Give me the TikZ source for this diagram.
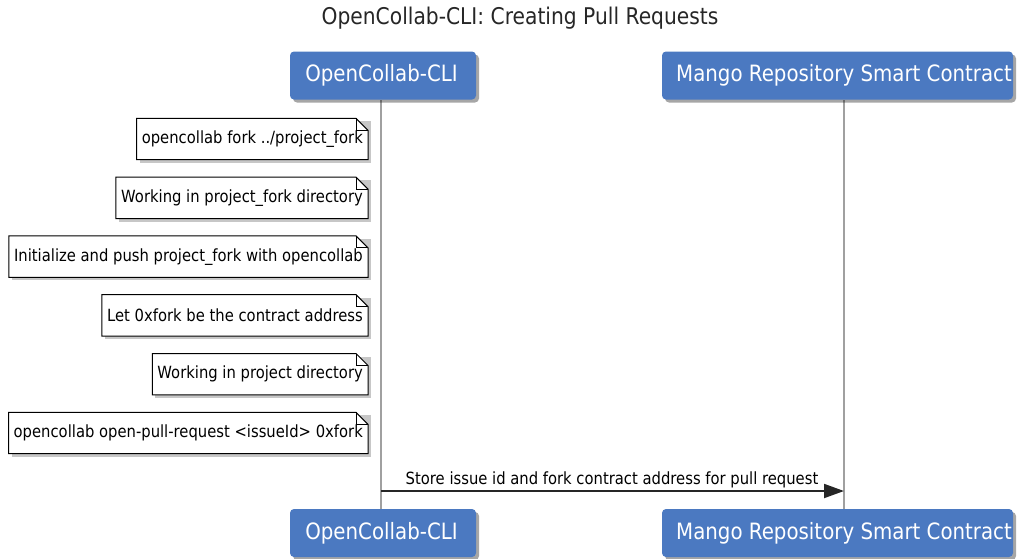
\documentclass[tikz,border=0pt]{standalone}
\usepackage{fontspec}
\setmainfont{DejaVu Sans}[FakeStretch=0.88]
\usetikzlibrary{backgrounds,shadows,arrows.meta}
\definecolor{actorblue}{HTML}{4B79C1}
\definecolor{lifegray}{HTML}{A0A0A0}
\newcommand{\actorfont}{\fontsize{22.5}{27}\selectfont}
\newcommand{\notefont}{\fontsize{16.8}{20}\selectfont}
\newcommand{\titlefont}{\fontsize{23}{27}\selectfont}
\tikzset{
  actorbox/.style={rectangle, rounded corners=4pt, fill=actorblue, text=white,
    font=\actorfont, minimum height=48pt, inner sep=0pt,
    drop shadow={shadow xshift=3pt, shadow yshift=-3pt, fill=black, opacity=0.35}},
  notetext/.style={rectangle, inner xsep=5pt, inner ysep=0pt, minimum height=41pt,
    anchor=east, font=\notefont},
  lifeline/.style={draw=lifegray, line width=2pt},
  msgline/.style={draw=black!85, line width=2pt, -{Triangle[length=20pt,width=14pt]}},
  msglabel/.style={font=\notefont, inner sep=1pt, anchor=south},
}
\newcommand{\drawnote}[1]{%
  \begin{scope}[on background layer]
    \fill[black, opacity=0.22] ([xshift=3pt,yshift=-3pt]#1.north west) rectangle ([xshift=3pt,yshift=-3pt]#1.south east);
    \filldraw[fill=white, draw=black, line width=1pt]
      (#1.north west) -- ([xshift=-12pt]#1.north east) -- ([yshift=-12pt]#1.north east)
      -- (#1.south east) -- (#1.south west) -- cycle;
    \draw[line width=1pt] ([xshift=-12pt]#1.north east) -- ([xshift=-12pt,yshift=-12pt]#1.north east)
      -- ([yshift=-12pt]#1.north east);
  \end{scope}}
\begin{document}
\begin{tikzpicture}[x=1pt,y=-1pt]
\useasboundingbox (0,0) rectangle (1020,558);
\node[font=\titlefont, text=black!85, inner sep=0pt] (title) at (520,18) {OpenCollab-CLI: Creating Pull Requests};

% lifelines
\coordinate (l1t) at (381,100);
\coordinate (l1b) at (381,510);
\coordinate (l2t) at (844,100);
\coordinate (l2b) at (844,510);
\draw[lifeline] (l1t) -- (l1b);
\draw[lifeline] (l2t) -- (l2b);

% actors
\node[actorbox, minimum width=186pt] (a1top) at (383,75.5) {};
\node[text=white, font=\actorfont] (a1toplbl) at (381.5,75.5) {OpenCollab-CLI};
\node[actorbox, minimum width=351pt] (a2top) at (837.5,75.5) {};
\node[text=white, font=\actorfont] (a2toplbl) at (844,75.5) {Mango Repository Smart Contract};
\node[actorbox, minimum width=186pt] (a1bot) at (383,533) {};
\node[text=white, font=\actorfont] (a1botlbl) at (381.5,533) {OpenCollab-CLI};
\node[actorbox, minimum width=351pt] (a2bot) at (837.5,533) {};
\node[text=white, font=\actorfont] (a2botlbl) at (844,533) {Mango Repository Smart Contract};

% notes
\node[notetext] (n1) at (368,139) {opencollab fork ../project\_fork};
\drawnote{n1}
\node[notetext] (n2) at (368,197.8) {Working in project\_fork directory};
\drawnote{n2}
\node[notetext] (n3) at (368,256.6) {Initialize and push project\_fork with opencollab};
\drawnote{n3}
\node[notetext] (n4) at (368,315.4) {Let 0xfork be the contract address};
\drawnote{n4}
\node[notetext] (n5) at (368,374.2) {Working in project directory};
\drawnote{n5}
\node[notetext] (n6) at (368,433) {opencollab open-pull-request <issueId> 0xfork};
\drawnote{n6}

% message
\coordinate (m1s) at (381,491);
\coordinate (m1e) at (844,491);
\draw[msgline] (m1s) -- (m1e);
\node[msglabel] (m1lbl) at (612,489) {Store issue id and fork contract address for pull request};
\end{tikzpicture}
\end{document}
